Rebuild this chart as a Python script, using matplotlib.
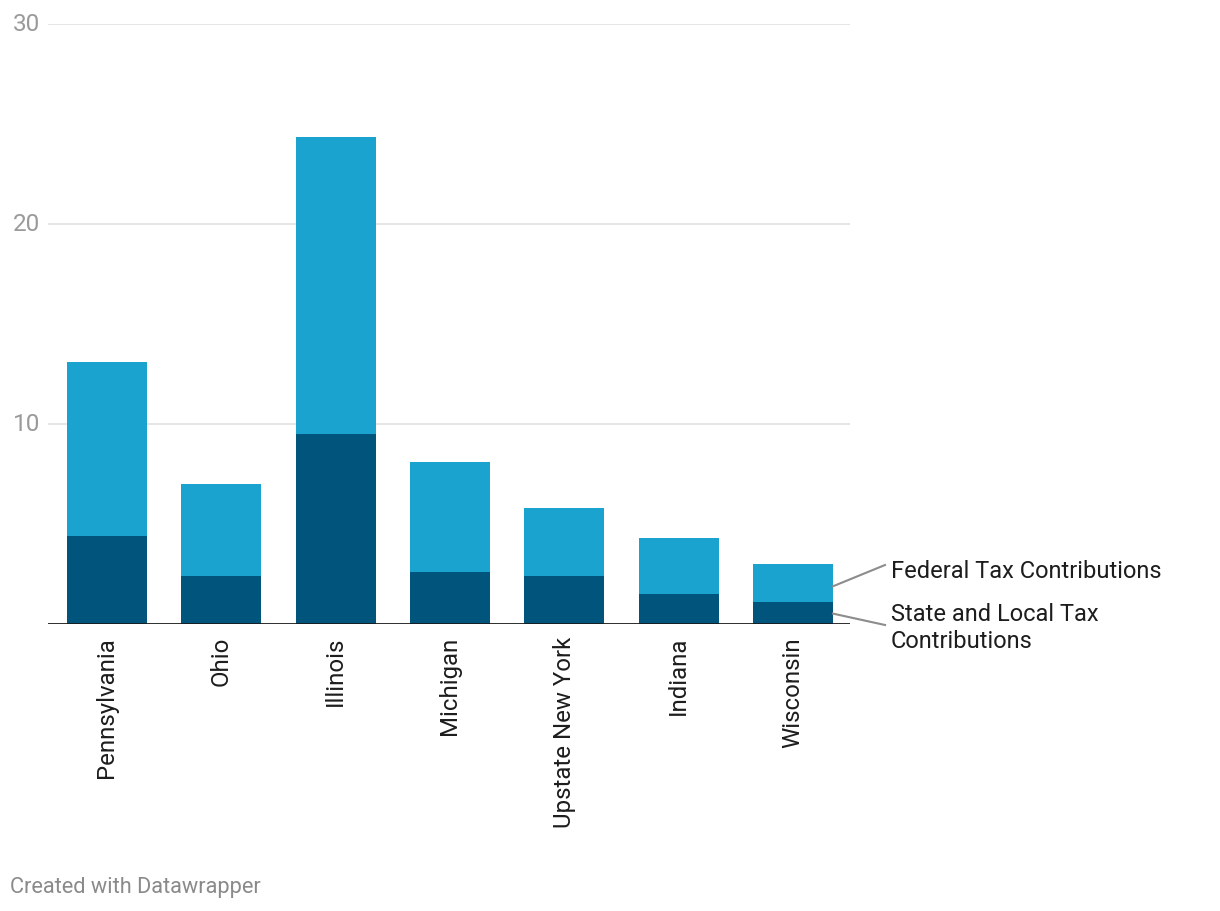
import matplotlib.pyplot as plt
import numpy as np

plt.rcParams['font.family'] = ['Roboto', 'DejaVu Sans']

# data (billions)
states = ['Pennsylvania', 'Ohio', 'Illinois', 'Michigan', 'Upstate New York', 'Indiana', 'Wisconsin']
state_local = [4.4, 2.4, 9.5, 2.6, 2.4, 1.5, 1.1]
federal = [8.7, 4.6, 14.8, 5.5, 3.4, 2.8, 1.9]
yticks = [10, 20, 30]

dark = '#01547c'
light = '#1ba3cf'

W, H = 1220, 912
fig = plt.figure(figsize=(W / 100, H / 100), dpi=100)
ax = fig.add_axes([48/W, (H - 624.5)/H, 802/W, 600/H])

x = np.arange(len(states))
ax.bar(x, state_local, width=0.7, color=dark, zorder=2)
ax.bar(x, federal, width=0.7, bottom=state_local, color=light, zorder=2)

ax.set_xlim(-0.516, 6.499)
ax.set_ylim(0, 30)
for y in yticks:
    ax.axhline(y, color='#e2e2e2', lw=1.2, zorder=1)
ax.axhline(0, color='#1a1a1a', lw=2, zorder=3)

for s in ax.spines.values():
    s.set_visible(False)
ax.set_yticks([])
ax.set_xticks(x)
ax.set_xticklabels(states, rotation=90, fontsize=17.3, color='#1d1d1d')
ax.tick_params(axis='x', length=0, pad=9)

for y in yticks:
    ax.text(-12/W, y, str(y), transform=ax.get_yaxis_transform(), ha='right', va='center',
            fontsize=17.5, color='#9a9a9a')

# direct labels with short leader lines
last = len(states) - 1
fed_mid = state_local[last] + federal[last] * 0.4
sl_mid = state_local[last] * 0.45
xe = last + 0.35
inv = fig.transFigure.inverted()
p_fed = inv.transform(ax.transData.transform((xe, fed_mid)))
p_sl = inv.transform(ax.transData.transform((xe, sl_mid)))

tx = 891/W
fig.add_artist(plt.Line2D([p_fed[0], 885/W], [p_fed[1], 1 - 566/H], color='#8c8c8c', lw=1.5))
fig.add_artist(plt.Line2D([p_sl[0], 885/W], [p_sl[1], 1 - 626/H], color='#8c8c8c', lw=1.5))
fig.text(tx, 1 - 572/H, 'Federal Tax Contributions', ha='left', va='center',
         fontsize=17, color='#1d1d1d')
fig.text(tx, 1 - 628/H, 'State and Local Tax\nContributions', ha='left', va='center',
         fontsize=17, color='#1d1d1d', linespacing=1.2)

fig.text(10/W, 1 - 888/H, 'Created with Datawrapper', ha='left', va='center',
         fontsize=15.7, color='#8a8a8a')

fig.savefig('out.png', dpi=100)
